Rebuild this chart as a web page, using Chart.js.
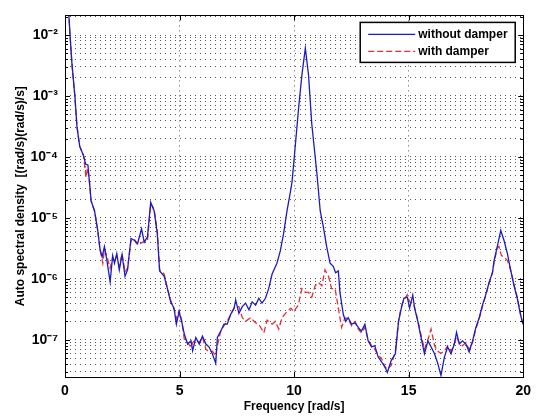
<!DOCTYPE html>
<html>
<head>
<meta charset="utf-8">
<script src="https://cdn.jsdelivr.net/npm/chart.js@4"></script>
<style>
  html, body { margin: 0; padding: 0; background: #fff; }
</style>
</head>
<body>
<canvas id="myChart" width="537" height="419"></canvas>
<script>
// frequency axis [rad/s] and spectral density values
const freqNoDamper = [0.05,0.17,0.22,0.30,0.43,0.52,0.64,0.81,0.90,1.00,1.04,1.14,1.29,1.43,1.53,1.62,1.72,1.82,1.97,2.08,2.16,2.26,2.37,2.49,2.62,2.73,2.88,3.02,3.17,3.34,3.46,3.60,3.74,3.89,4.03,4.13,4.33,4.47,4.61,4.76,4.86,4.98,5.09,5.21,5.35,5.50,5.57,5.71,5.86,6.00,6.15,6.29,6.43,6.58,6.65,6.80,6.94,7.08,7.23,7.38,7.45,7.59,7.74,7.88,8.03,8.17,8.32,8.46,8.60,8.75,8.89,9.04,9.25,9.40,9.54,9.69,9.84,9.91,10.05,10.20,10.34,10.49,10.63,10.77,10.99,11.14,11.28,11.42,11.57,11.71,11.81,11.93,12.00,12.15,12.25,12.36,12.51,12.66,12.80,12.94,13.09,13.23,13.38,13.52,13.67,13.81,13.96,14.07,14.24,14.42,14.56,14.68,14.79,14.94,15.04,15.18,15.26,15.40,15.54,15.69,15.84,15.98,16.13,16.27,16.41,16.56,16.70,16.85,16.99,17.09,17.21,17.35,17.50,17.64,17.79,17.93,18.08,18.22,18.36,18.51,18.66,18.73,18.87,19.02,19.16,19.31,19.45,19.60,19.74,19.88,19.99];
const psdNoDamper = [5.0e-2,2.1e-2,1.0e-2,3.5e-3,1.0e-3,3.2e-4,1.5e-4,1.05e-4,7.6e-5,7.4e-5,5.0e-5,1.9e-5,1.3e-5,6.2e-6,3.0e-6,2.3e-6,3.4e-6,2.1e-6,8.9e-7,2.4e-6,1.8e-6,2.6e-6,1.4e-6,2.5e-6,1.1e-6,1.4e-6,4.6e-6,4.3e-6,3.8e-6,6.6e-6,4.0e-6,4.9e-6,1.8e-5,1.3e-5,5.5e-6,1.35e-6,1.1e-6,6.9e-7,4.2e-7,3.3e-7,1.8e-7,2.9e-7,2.0e-7,1.23e-7,8.5e-8,9.6e-8,6.6e-8,1.09e-7,8.5e-8,1.15e-7,8.5e-8,7.6e-8,5.9e-8,4.1e-8,1.09e-7,1.39e-7,1.8e-7,1.8e-7,2.6e-7,3.3e-7,4.5e-7,2.7e-7,3.5e-7,4.0e-7,3.1e-7,4.2e-7,3.7e-7,4.8e-7,4.0e-7,4.8e-7,6.9e-7,1.2e-6,1.8e-6,2.9e-6,5.5e-6,1.3e-5,2.7e-5,3.9e-5,1.5e-4,6.6e-4,2.2e-3,6.1e-3,2.2e-3,3.5e-4,5.6e-5,1.3e-5,7.0e-6,3.4e-6,1.8e-6,1.6e-6,1.26e-6,1.35e-6,6.0e-7,2.6e-7,2.0e-7,2.3e-7,1.8e-7,1.9e-7,1.6e-7,1.39e-7,1.8e-7,9.6e-8,7.6e-8,8.0e-8,5.2e-8,4.4e-8,3.6e-8,2.9e-8,4.6e-8,5.9e-8,2.0e-7,3.3e-7,4.8e-7,5.0e-7,3.3e-7,5.4e-7,3.3e-7,2.0e-7,1.09e-7,5.9e-8,9.6e-8,7.6e-8,5.9e-8,4.1e-8,2.6e-8,5.2e-8,7.6e-8,5.9e-8,8.5e-8,1.32e-7,8.5e-8,9.6e-8,8.5e-8,6.3e-8,9.6e-8,1.58e-7,2.3e-7,3.7e-7,5.4e-7,8.7e-7,1.26e-6,2.0e-6,3.4e-6,6.2e-6,4.3e-6,2.6e-6,1.4e-6,7.7e-7,4.8e-7,2.6e-7,1.8e-7];

const freqDamper = [0.05,0.17,0.22,0.30,0.43,0.52,0.64,0.81,0.88,0.92,0.98,1.04,1.14,1.29,1.43,1.53,1.65,1.72,1.82,1.97,2.08,2.16,2.26,2.37,2.49,2.62,2.73,2.88,3.02,3.17,3.40,3.60,3.74,3.89,4.03,4.13,4.33,4.47,4.61,4.76,4.86,4.98,5.09,5.21,5.35,5.50,5.57,5.71,5.86,6.00,6.15,6.29,6.43,6.58,6.65,6.80,6.94,7.08,7.23,7.38,7.45,7.59,7.74,7.88,8.10,8.32,8.46,8.68,8.82,9.04,9.18,9.33,9.47,9.69,9.86,9.98,10.18,10.34,10.49,10.63,10.77,10.92,11.06,11.21,11.35,11.50,11.64,11.79,11.93,12.07,12.22,12.36,12.51,12.66,12.80,12.94,13.09,13.23,13.38,13.52,13.67,13.81,13.96,14.07,14.24,14.42,14.56,14.68,14.79,14.94,15.04,15.18,15.26,15.40,15.54,15.69,15.84,15.98,16.13,16.27,16.41,16.56,16.70,16.85,16.99,17.09,17.21,17.35,17.50,17.64,17.79,17.93,18.08,18.22,18.36,18.51,18.66,18.73,18.87,18.94,19.05,19.16,19.31,19.45,19.60,19.74,19.88,19.99];
const psdDamper = [5.0e-2,2.1e-2,1.0e-2,3.5e-3,1.0e-3,3.2e-4,1.5e-4,1.05e-4,6.0e-5,4.6e-5,6.5e-5,5.0e-5,1.9e-5,1.3e-5,6.2e-6,3.0e-6,1.8e-6,3.0e-6,2.4e-6,1.5e-6,2.2e-6,2.0e-6,2.4e-6,1.6e-6,2.6e-6,1.3e-6,1.5e-6,4.2e-6,4.5e-6,3.6e-6,4.0e-6,4.2e-6,1.7e-5,1.4e-5,6.0e-6,1.4e-6,1.2e-6,7.0e-7,4.5e-7,3.2e-7,2.2e-7,3.0e-7,2.1e-7,1.0e-7,9.0e-8,7.5e-8,9.0e-8,1.0e-7,9.0e-8,1.1e-7,7.0e-8,6.3e-8,6.5e-8,5.5e-8,8.0e-8,1.4e-7,1.7e-7,2.0e-7,2.6e-7,3.3e-7,3.5e-7,3.5e-7,2.3e-7,2.0e-7,2.3e-7,1.9e-7,1.8e-7,1.3e-7,2.1e-7,1.8e-7,2.0e-7,1.5e-7,2.3e-7,2.9e-7,3.3e-7,2.9e-7,3.7e-7,6.9e-7,6.0e-7,6.0e-7,5.0e-7,7.7e-7,8.7e-7,7.7e-7,1.4e-6,1.1e-6,6.9e-7,6.9e-7,3.3e-7,1.6e-7,2.3e-7,2.2e-7,1.7e-7,2.0e-7,1.5e-7,1.3e-7,1.6e-7,1.0e-7,8.0e-8,7.0e-8,5.5e-8,5.0e-8,3.6e-8,3.3e-8,3.8e-8,6.5e-8,2.1e-7,3.5e-7,4.5e-7,5.5e-7,4.2e-7,4.0e-7,3.4e-7,2.1e-7,1.2e-7,7.0e-8,1.0e-7,1.5e-7,8.0e-8,6.5e-8,6.0e-8,6.5e-8,8.0e-8,6.5e-8,8.5e-8,1.1e-7,9.0e-8,8.0e-8,9.0e-8,7.0e-8,9.0e-8,1.5e-7,2.2e-7,3.5e-7,5.2e-7,8.5e-7,1.3e-6,1.9e-6,3.2e-6,3.4e-6,2.4e-6,2.3e-6,2.0e-6,1.4e-6,8.0e-7,5.0e-7,2.7e-7,1.8e-7];

const seriesLabels = ["without damper", "with damper"];
const xTicks = [0, 5, 10, 15, 20];
const yDecades = [-8, -7, -6, -5, -4, -3, -2, -1];
const yMin = 2.45e-8;
const yMax = 2.1e-2;

const supMap = { "-": "\u207B", "0": "\u2070", "1": "\u00B9", "2": "\u00B2", "3": "\u00B3", "4": "\u2074", "5": "\u2075", "6": "\u2076", "7": "\u2077", "8": "\u2078", "9": "\u2079" };
function powLabel(exp) {
  return "10" + String(exp).split("").map((c) => supMap[c]).join("");
}

// all log ticks 1..9 x 10^n inside the range
const yTickList = [];
yDecades.forEach((d) => {
  for (let m = 1; m <= 9; m++) {
    const v = m * Math.pow(10, d);
    if (v >= yMin && v <= yMax) yTickList.push({ value: v, major: m === 1, exp: d });
  }
});

const font = "'Liberation Sans', Arial, Helvetica, sans-serif";

// frame around the axes + small inside ticks like matlab
const frameBox = {
  id: "frameBox",
  afterDraw(chart) {
    const { ctx, chartArea: a, scales } = chart;
    ctx.save();
    ctx.strokeStyle = "#000";
    ctx.lineWidth = 1;
    ctx.strokeRect(Math.round(a.left) + 0.5, Math.round(a.top) + 0.5, Math.round(a.right - a.left), Math.round(a.bottom - a.top));
    ctx.beginPath();
    yTickList.forEach((t) => {
      const y = Math.round(scales.y.getPixelForValue(t.value)) + 0.5;
      const len = t.major ? 5 : 3;
      ctx.moveTo(a.left, y); ctx.lineTo(a.left + len, y);
      ctx.moveTo(a.right, y); ctx.lineTo(a.right - len, y);
    });
    xTicks.forEach((v) => {
      const x = Math.round(scales.x.getPixelForValue(v)) + 0.5;
      ctx.moveTo(x, a.bottom); ctx.lineTo(x, a.bottom - 5);
      ctx.moveTo(x, a.top); ctx.lineTo(x, a.top + 5);
    });
    ctx.stroke();
    ctx.restore();
  },
};

// legend box drawn inside the plot (top right)
const innerLegend = {
  id: "innerLegend",
  afterDraw(chart) {
    const { ctx, chartArea: a } = chart;
    const w = 155, h = 40;
    const x0 = a.right - 8 - w, y0 = a.top + 7;
    ctx.save();
    ctx.fillStyle = "#fff";
    ctx.fillRect(x0, y0, w, h);
    ctx.strokeStyle = "#000";
    ctx.lineWidth = 1.5;
    ctx.strokeRect(x0, y0, w, h);
    chart.data.datasets.forEach((ds, i) => {
      const y = y0 + 12 + i * 17;
      ctx.strokeStyle = ds.borderColor;
      ctx.lineWidth = ds.borderWidth;
      ctx.setLineDash(ds.borderDash || []);
      ctx.beginPath();
      ctx.moveTo(x0 + 8, y);
      ctx.lineTo(x0 + 55, y);
      ctx.stroke();
      ctx.setLineDash([]);
      ctx.fillStyle = "#000";
      ctx.font = "bold 12px " + font;
      ctx.textBaseline = "middle";
      ctx.fillText(ds.label, x0 + 58, y);
    });
    ctx.restore();
  },
};

const ctx = document.getElementById("myChart").getContext("2d");
new Chart(ctx, {
  type: "line",
  data: {
    datasets: [
      {
        label: seriesLabels[0],
        data: freqNoDamper.map((f, i) => ({ x: f, y: psdNoDamper[i] })),
        borderColor: "#1c1cc4",
        borderWidth: 1.3,
        pointRadius: 0,
        tension: 0,
      },
      {
        label: seriesLabels[1],
        data: freqDamper.map((f, i) => ({ x: f, y: psdDamper[i] })),
        borderColor: "#e0303a",
        borderWidth: 1.3,
        borderDash: [6, 3],
        pointRadius: 0,
        tension: 0,
      },
    ],
  },
  options: {
    responsive: false,
    animation: false,
    layout: { padding: { top: 6, right: 11, left: 0, bottom: 0 } },
    plugins: { legend: { display: false }, tooltip: { enabled: false } },
    scales: {
      x: {
        type: "linear",
        min: 0,
        max: 20,
        afterBuildTicks: (scale) => {
          scale.ticks = xTicks.map((v) => ({ value: v }));
        },
        afterFit: (scale) => {
          scale.height = 42;
        },
        ticks: { padding: 6, color: "#000", font: { family: font, size: 14, weight: "bold" } },
        grid: { color: "#555", borderDash: [1, 4], drawTicks: false },
        border: { display: false, dash: [1, 4] },
        title: {
          display: true,
          text: "Frequency [rad/s]",
          color: "#000",
          font: { family: font, size: 12, weight: "bold" },
          padding: { top: 0, bottom: 5 },
        },
      },
      y: {
        type: "logarithmic",
        min: yMin,
        max: yMax,
        afterBuildTicks: (scale) => {
          scale.ticks = yTickList.map((t) => ({ value: t.value, major: t.major }));
        },
        afterFit: (scale) => {
          scale.width = 65;
        },
        ticks: {
          autoSkip: false,
          padding: 7,
          color: "#000",
          font: { family: font, size: 14, weight: "bold" },
          callback: (value, index) => {
            const t = yTickList[index];
            return t && t.major ? powLabel(t.exp) : "";
          },
        },
        grid: { color: "#555", borderDash: [1, 4], drawTicks: false },
        border: { display: false, dash: [1, 4] },
        title: {
          display: true,
          text: "Auto spectral density  [(rad/s)(rad/s)/s]",
          color: "#000",
          font: { family: font, size: 12, weight: "bold" },
          padding: { top: 13, bottom: 0 },
        },
      },
    },
  },
  plugins: [frameBox, innerLegend],
});
</script>
</body>
</html>
